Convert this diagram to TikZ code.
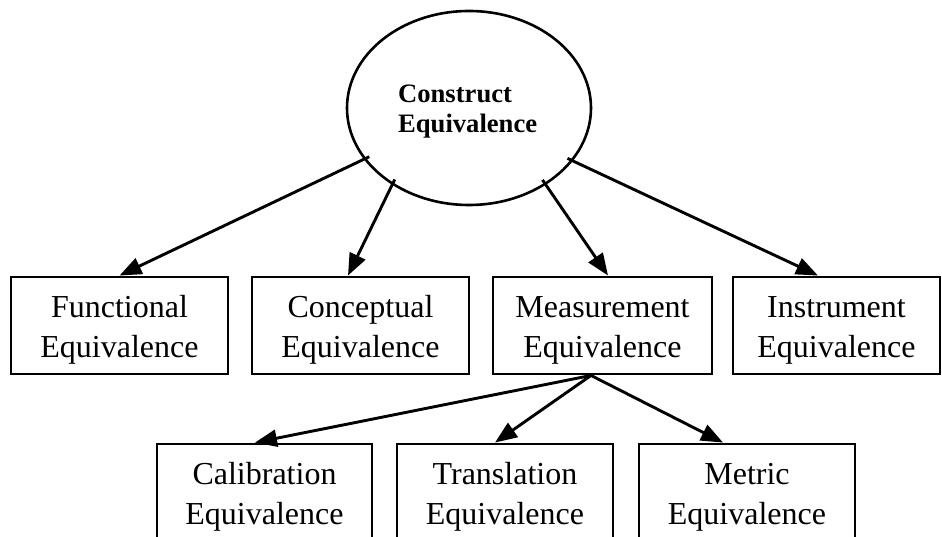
\documentclass[tikz,border=0pt]{standalone}
\usepackage{fontspec}
\setmainfont{Liberation Serif}
\usetikzlibrary{arrows.meta,shapes.geometric}
% raises the first line of a box label to a fixed height
\newcommand\firstlinestrut{\rule{0pt}{30pt}}
\begin{document}
\begin{tikzpicture}[x=1pt,y=1pt,
  box/.style={draw, line width=2.9pt, minimum width=217pt, minimum height=97pt,
    inner sep=0pt, align=center, font=\fontsize{32}{40}\selectfont},
  link/.style={line width=2.9pt, -{Triangle[length=22pt,width=17pt]}},
  fromtop/.style={shorten <=-6pt},
]
\clip (0,0) rectangle (942,536);

% top-level construct
\node[ellipse, draw, line width=2.6pt, minimum width=244pt, minimum height=194pt,
      inner sep=0pt] (ce) at (469,428) {};
\node[font=\bfseries\fontsize{26.6}{30}\selectfont, align=left, anchor=north west,
      inner sep=0pt] (cet) at (398,451) {Construct\\Equivalence};

% first level
\node[box] (fe) at (119.5,210.5) {\firstlinestrut Functional\\Equivalence};
\node[box] (co) at (360.5,210.5) {\firstlinestrut Conceptual\\Equivalence};
\node[box, minimum width=219pt] (me) at (602.5,210.5) {\firstlinestrut Measurement\\Equivalence};
\node[box, minimum width=207pt] (ie) at (836.5,210.5) {\firstlinestrut Instrument\\Equivalence};

% second level (under measurement)
\node[box, minimum width=215pt] (ca) at (264.5,43.5) {\firstlinestrut Calibration\\Equivalence};
\node[box, minimum width=216pt] (tr) at (505,43.5) {\firstlinestrut Translation\\Equivalence};
\node[box, minimum width=216pt] (mt) at (747,43.5) {\firstlinestrut Metric\\Equivalence};

% connectors
\draw[link, fromtop] (ce.206) -- (fe.north);
\draw[link, fromtop] (ce.225) -- ([xshift=-12.5pt]co.north);
\draw[link, fromtop] (ce.315) -- ([xshift=5.5pt]me.north);
\draw[link, fromtop] (ce.333) -- ([xshift=-18.5pt]ie.north);

\coordinate (mb) at ([xshift=-11.5pt]me.south);
\draw[link] (mb) -- ([xshift=-9.5pt]ca.north);
\draw[link] (mb) -- ([xshift=-10pt]tr.north);
\draw[link] (mb) -- ([xshift=-24pt]mt.north);
\end{tikzpicture}
\end{document}
